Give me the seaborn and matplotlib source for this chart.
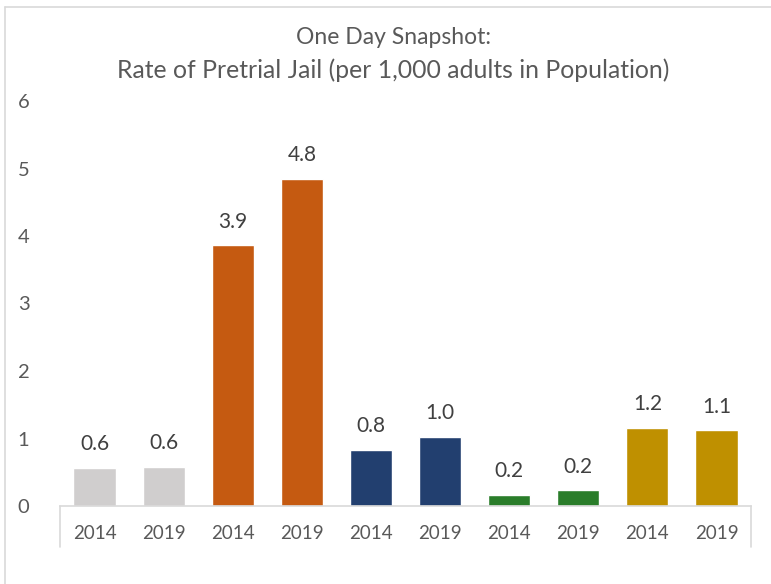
import matplotlib
matplotlib.use("Agg")
import matplotlib.pyplot as plt
import matplotlib.lines as mlines
import pandas as pd
import seaborn as sns

# data
groups = ["G1", "G1", "G2", "G2", "G3", "G3", "G4", "G4", "G5", "G5"]
years = ["2014", "2019", "2014", "2019", "2014", "2019", "2014", "2019", "2014", "2019"]
rates = [0.56, 0.58, 3.86, 4.84, 0.83, 1.02, 0.16, 0.23, 1.16, 1.12]
colors = ["#D0CECE", "#C55A11", "#223F6F", "#2A7D2A", "#BF9000"]

df = pd.DataFrame({"pos": range(len(rates)), "group": groups, "year": years, "rate": rates})

sns.set_theme(style="white")
plt.rcParams["font.family"] = ["Lato", "DejaVu Sans"]

fig = plt.figure(figsize=(7.71, 5.84), dpi=100)
ax = fig.add_axes([60 / 771, 1 - 506 / 584, 691 / 771, 405 / 584])

sns.barplot(data=df, x="pos", y="rate", hue="group", palette=colors,
            width=0.61, legend=False, saturation=1, ax=ax)

for c in ax.containers:
    ax.bar_label(c, fmt="%.1f", padding=10, fontsize=15, color="#404040")

ax.set_ylim(0, 6)
ax.set_yticks(range(0, 7))
ax.set_xticks(range(len(years)))
ax.set_xticklabels(years)
ax.set_xlabel("")
ax.set_ylabel("")
ax.tick_params(axis="y", length=0, pad=22, labelsize=14.5, labelcolor="#595959")
ax.tick_params(axis="x", length=0, pad=14, labelsize=13.5, labelcolor="#595959")

for side in ["top", "right", "left"]:
    ax.spines[side].set_visible(False)
ax.spines["bottom"].set_color("#D9D9D9")
ax.spines["bottom"].set_linewidth(1.2)

# vertical end lines of the category axis
for xa in [0, 1]:
    ax.add_line(mlines.Line2D([xa, xa], [0, -41 / 405], transform=ax.transAxes,
                              color="#D9D9D9", lw=1.2, clip_on=False))

fig.text(393 / 771, 1 - 38 / 584, "One Day Snapshot:", ha="center", va="center",
         fontsize=16.5, color="#595959")
fig.text(393 / 771, 1 - 70 / 584, "Rate of Pretrial Jail (per 1,000 adults in Population)",
         ha="center", va="center", fontsize=17.8, color="#595959")

# chart frame
fig.add_artist(mlines.Line2D([5 / 771, 5 / 771], [0, 1 - 7 / 584], color="#D9D9D9", lw=1.2))
fig.add_artist(mlines.Line2D([5 / 771, 1], [1 - 7 / 584, 1 - 7 / 584], color="#D9D9D9", lw=1.2))

fig.savefig("out.png", dpi=100)
